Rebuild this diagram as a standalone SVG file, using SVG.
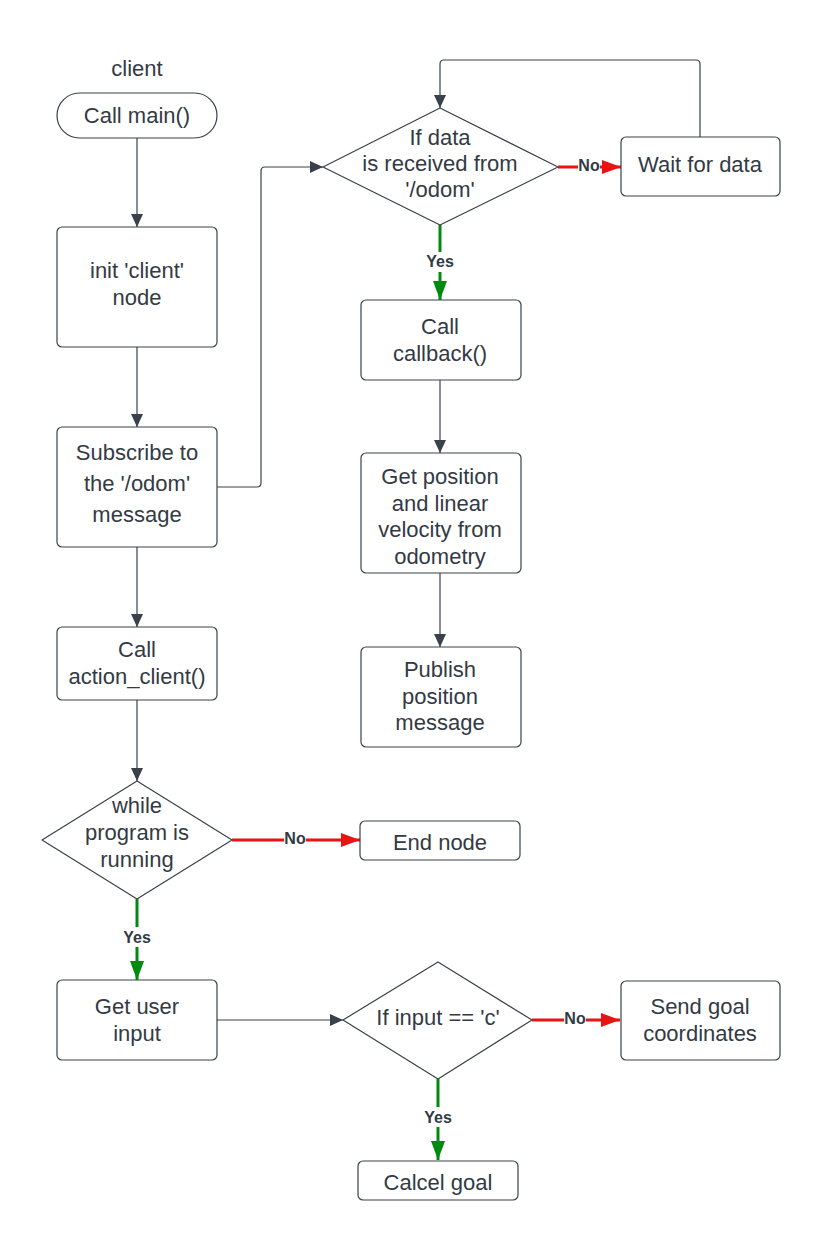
<svg xmlns="http://www.w3.org/2000/svg" width="820" height="1240" viewBox="0 0 820 1240">
<style>
.box{fill:#fff;stroke:#3a414a;stroke-width:1.2}
.t{font-family:"Liberation Sans",Arial,sans-serif;font-size:22px;fill:#333a44;text-anchor:middle;dominant-baseline:central}
.lbl{font-family:"Liberation Sans",Arial,sans-serif;font-size:16px;font-weight:bold;fill:#333a44;text-anchor:middle;dominant-baseline:central}
.c{fill:none;stroke:#3a414a;stroke-width:1.2}
.r{fill:none;stroke:#e81313;stroke-width:3}
.g{fill:none;stroke:#008a0e;stroke-width:3}
.bg{fill:#fff}
</style>
<defs>
<marker id="ag" markerUnits="userSpaceOnUse" markerWidth="14" markerHeight="12" refX="13" refY="6" orient="auto"><path d="M0,0 L13,6 L0,12 Z" fill="#3a414a"/></marker>
<marker id="ar" markerUnits="userSpaceOnUse" markerWidth="20" markerHeight="14" refX="19" refY="7" orient="auto"><path d="M0,0 L19,7 L0,14 Z" fill="#e81313"/></marker>
<marker id="agr" markerUnits="userSpaceOnUse" markerWidth="20" markerHeight="14" refX="19" refY="7" orient="auto"><path d="M0,0 L19,7 L0,14 Z" fill="#008a0e"/></marker>
</defs>
<rect width="820" height="1240" fill="#fff"/>
<g id="connectors">
<path class="c" d="M137,138 V227" marker-end="url(#ag)"/>
<path class="c" d="M137,347 V427" marker-end="url(#ag)"/>
<path class="c" d="M137,547 V627" marker-end="url(#ag)"/>
<path class="c" d="M137,700 V781" marker-end="url(#ag)"/>
<path class="c" d="M217,487 H257 Q261,487 261,483 V171 Q261,167 265,167 H323" marker-end="url(#ag)"/>
<path class="c" d="M700,137 V64 Q700,60 696,60 H444 Q440,60 440,64 V108" marker-end="url(#ag)"/>
<path class="c" d="M440,380 V453" marker-end="url(#ag)"/>
<path class="c" d="M440,573 V647" marker-end="url(#ag)"/>
<path class="c" d="M217,1020 H343" marker-end="url(#ag)"/>
<path class="r" d="M558,167 H621" marker-end="url(#ar)"/>
<path class="g" d="M440,225 V300" marker-end="url(#agr)"/>
<path class="r" d="M232,840 H360" marker-end="url(#ar)"/>
<path class="g" d="M137,899 V980" marker-end="url(#agr)"/>
<path class="r" d="M532,1020 H620" marker-end="url(#ar)"/>
<path class="g" d="M438,1079 V1160" marker-end="url(#agr)"/>
<rect class="bg" x="578" y="157" width="22" height="18"/>
<text class="lbl" x="589" y="165">No</text>
<rect class="bg" x="424" y="252" width="32" height="20"/>
<text class="lbl" x="440" y="261">Yes</text>
<rect class="bg" x="284" y="830" width="22" height="18"/>
<text class="lbl" x="295" y="838">No</text>
<rect class="bg" x="121" y="927" width="32" height="20"/>
<text class="lbl" x="137" y="937">Yes</text>
<rect class="bg" x="564" y="1009" width="22" height="18"/>
<text class="lbl" x="575" y="1018">No</text>
<rect class="bg" x="422" y="1107" width="32" height="20"/>
<text class="lbl" x="438" y="1117">Yes</text>
</g>
<g id="title"><text class="t" x="137" y="68">client</text></g>
<g id="start"><rect class="box" x="57" y="93" width="160" height="45" rx="22.5"/><text class="t" x="137" y="115">Call main()</text></g>
<g id="init"><rect class="box" x="57" y="227" width="160" height="120" rx="5"/><text class="t" x="137" y="270">init 'client'</text><text class="t" x="137" y="297">node</text></g>
<g id="subscribe"><rect class="box" x="57" y="427" width="160" height="120" rx="5"/><text class="t" x="137" y="452">Subscribe to</text><text class="t" x="137" y="483">the '/odom'</text><text class="t" x="137" y="514">message</text></g>
<g id="action"><rect class="box" x="57" y="627" width="160" height="73" rx="5"/><text class="t" x="137" y="649">Call</text><text class="t" x="137" y="676">action_client()</text></g>
<g id="while"><path class="box" d="M137,781 L232,840 L137,899 L42,840 Z" stroke-linejoin="round"/><text class="t" x="137" y="805">while</text><text class="t" x="137" y="832">program is</text><text class="t" x="137" y="859">running</text></g>
<g id="endnode"><rect class="box" x="360" y="821" width="160" height="39" rx="5"/><text class="t" x="440" y="842">End node</text></g>
<g id="userinput"><rect class="box" x="57" y="980" width="160" height="80" rx="5"/><text class="t" x="137" y="1006">Get user</text><text class="t" x="137" y="1033">input</text></g>
<g id="ifinput"><path class="box" d="M438,962 L532,1020 L438,1079 L343,1020 Z" stroke-linejoin="round"/><text class="t" x="438" y="1017">If input == 'c'</text></g>
<g id="sendgoal"><rect class="box" x="621" y="981" width="159" height="79" rx="5"/><text class="t" x="700" y="1006">Send goal</text><text class="t" x="700" y="1033">coordinates</text></g>
<g id="cancel"><rect class="box" x="358" y="1161" width="160" height="39" rx="5"/><text class="t" x="438" y="1182">Calcel goal</text></g>
<g id="ifdata"><path class="box" d="M440,108 L558,167 L440,225 L323,167 Z" stroke-linejoin="round"/><text class="t" x="440" y="137">If data</text><text class="t" x="440" y="163">is received from</text><text class="t" x="440" y="189">'/odom'</text></g>
<g id="wait"><rect class="box" x="621" y="137" width="159" height="59" rx="5"/><text class="t" x="700" y="164">Wait for data</text></g>
<g id="callback"><rect class="box" x="361" y="300" width="160" height="80" rx="5"/><text class="t" x="440" y="326">Call</text><text class="t" x="440" y="353">callback()</text></g>
<g id="getpos"><rect class="box" x="361" y="453" width="160" height="120" rx="5"/><text class="t" x="440" y="476">Get position</text><text class="t" x="440" y="503">and linear</text><text class="t" x="440" y="529">velocity from</text><text class="t" x="440" y="556">odometry</text></g>
<g id="publish"><rect class="box" x="361" y="647" width="160" height="100" rx="5"/><text class="t" x="440" y="669">Publish</text><text class="t" x="440" y="696">position</text><text class="t" x="440" y="722">message</text></g>
</svg>
